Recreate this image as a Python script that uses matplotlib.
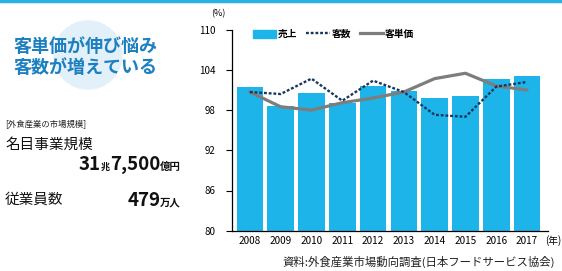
import numpy as np
import matplotlib.pyplot as plt
from matplotlib.patches import Ellipse, Patch
from matplotlib.lines import Line2D

plt.rcParams['font.family'] = ['Noto Sans CJK JP', 'DejaVu Sans']

years = ["2008", "2009", "2010", "2011", "2012", "2013", "2014", "2015", "2016", "2017"]
sales = [101.4, 98.6, 100.6, 99.0, 101.6, 100.9, 99.8, 100.1, 102.7, 103.1]
customers = [100.7, 100.4, 102.7, 99.4, 102.4, 100.7, 97.3, 97.0, 101.5, 102.2]
unit_price = [100.7, 98.5, 98.0, 99.1, 99.8, 100.7, 102.7, 103.5, 101.6, 101.0]
y_ticks = [80, 86, 92, 98, 104, 110]

W, H = 562, 271
BAR = "#1db4ea"
NAVY = "#17375e"
GREY = "#7d7d7d"
TITLE = "#1b7fc0"


def fx(px):
    return px / W


def fy(py):
    return 1 - py / H


def chain(fig, x_end, y0, parts):
    # pieces of mixed size, right edge at x_end (pixels)
    r = fig.canvas.get_renderer()
    texts = [fig.text(0, fy(y0), s, fontsize=size, fontweight="bold",
                      va="baseline", ha="left", color="#111111") for s, size in parts]
    widths = [t.get_window_extent(renderer=r).width for t in texts]
    x = x_end - sum(widths)
    for t, w in zip(texts, widths):
        t.set_x(fx(x))
        x += w


fig = plt.figure(figsize=(W / 100, H / 100), dpi=100)
fig.patch.set_facecolor("white")

# top border
fig.add_artist(Line2D([0, 1], [fy(1), fy(1)], color="#2ab0e6", lw=2.5,
                      transform=fig.transFigure))

# faint circle behind title
fig.add_artist(Ellipse((fx(88), fy(55)), fx(68), 68 / H, transform=fig.transFigure,
                       color="#e2f0fa", zorder=0))

fig.text(fx(14), fy(46), "客単価が伸び悩み", color=TITLE, fontsize=13,
         fontweight="bold", va="center", ha="left")
fig.text(fx(14), fy(68), "客数が増えている", color=TITLE, fontsize=13,
         fontweight="bold", va="center", ha="left")

fig.text(fx(5), fy(124), "[外食産業の市場規模]", fontsize=6, va="center", color="#222222")
fig.text(fx(5), fy(145), "名目事業規模", fontsize=10.5, va="center", color="#111111")
chain(fig, 181, 170, [("31", 13.5), ("兆", 6.5), ("7,500", 13.5), ("億円", 7.5)])
fig.text(fx(5), fy(200), "従業員数", fontsize=10.5, va="center", color="#111111")
chain(fig, 181, 206, [("479", 13.5), ("万人", 7.5)])

ax = fig.add_axes([fx(232), fy(230.7), fx(548 - 232), (230.7 - 29.7) / H])
x = np.arange(len(years))
ax.bar(x, sales, bottom=0, width=0.86, color=BAR, zorder=1)
ax.plot(x, unit_price, color=GREY, lw=2.3, solid_joinstyle="round",
        solid_capstyle="round", zorder=2)
ax.plot(x, customers, color=NAVY, lw=1.7, linestyle=(0, (1.2, 0.8)), zorder=3)

ax.set_ylim(80, 110)
ax.set_xlim(-0.58, 9.68)
ax.set_yticks(y_ticks)
ax.set_yticklabels([str(t) for t in y_ticks], fontsize=7)
ax.set_xticks(x)
ax.set_xticklabels(years, fontsize=7.2)
ax.tick_params(axis="x", length=0, pad=4)
ax.tick_params(axis="y", length=4, width=0.8, direction="out", pad=8)
for s in ["top", "right"]:
    ax.spines[s].set_visible(False)
for s in ["left", "bottom"]:
    ax.spines[s].set_linewidth(0.9)
ax.set_facecolor("none")

fig.text(fx(218), fy(14), "(%)", fontsize=6.5, ha="center", va="center")
fig.text(fx(553), fy(241), "(年)", fontsize=7, ha="center", va="center")

handles = [Patch(color=BAR), Line2D([], [], color=NAVY, lw=1.7, linestyle=(0, (1.2, 0.8))),
           Line2D([], [], color=GREY, lw=2.3)]
ax.legend(handles, ["売上", "客数", "客単価"], loc="center left", ncol=3,
          bbox_to_anchor=(0.066, 0.978), frameon=False,
          prop={"weight": "bold", "size": 7}, borderpad=0, borderaxespad=0,
          handlelength=2.4, handleheight=0.9, columnspacing=0.9, handletextpad=0.2)

fig.text(fx(555), fy(262), "資料:外食産業市場動向調査(日本フードサービス協会)",
         fontsize=8.2, ha="right", va="center", color="#222222")

fig.savefig("out.png", dpi=100)
